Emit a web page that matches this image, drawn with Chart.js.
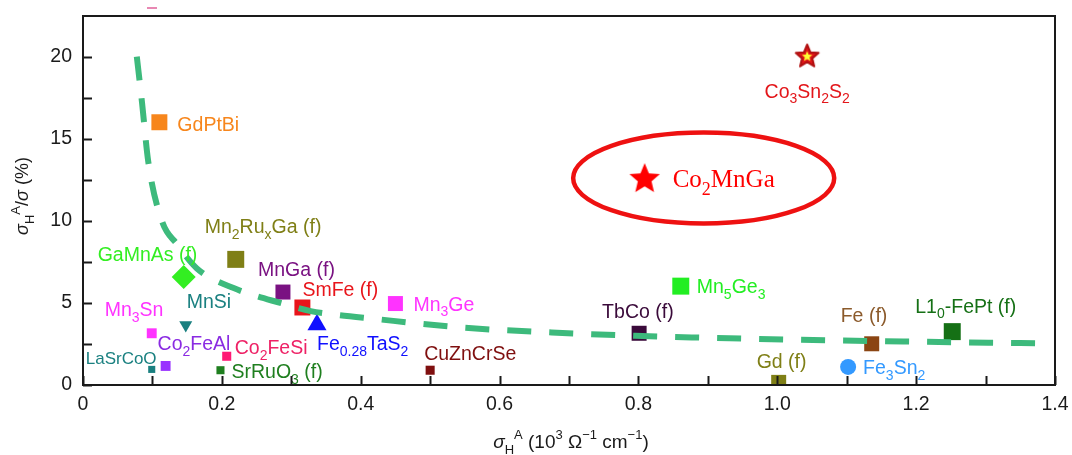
<!DOCTYPE html>
<html>
<head>
<meta charset="utf-8">
<script src="https://cdn.jsdelivr.net/npm/chart.js@4"></script>
<style>
  html, body { margin: 0; padding: 0; background: #fff; }
  #wrap { width: 1072px; height: 455px; }
</style>
</head>
<body>
<div id="wrap"><canvas id="myChart" width="1072" height="455"></canvas></div>
<script>
// materials, _ = subscript, ^ = superscript
const materials = ['GdPtBi', 'Mn_2Ru_xGa (f)', 'GaMnAs (f)', 'MnGa (f)', 'SmFe (f)', 'Mn_3Ge', 'MnSi', 'Mn_3Sn',
  'Co_2FeAl', 'Co_2FeSi', 'LaSrCoO', 'SrRuO_3 (f)', 'Fe_{0.28}TaS_2', 'CuZnCrSe', 'TbCo (f)', 'Mn_5Ge_3',
  'Fe (f)', 'L1_0-FePt (f)', 'Gd (f)', 'Fe_3Sn_2', 'Co_3Sn_2S_2', 'Co_2MnGa'];
const sigmaAH = [0.11, 0.22, 0.145, 0.288, 0.316, 0.45, 0.148, 0.099,
  0.119, 0.207, 0.099, 0.198, 0.337, 0.50, 0.801, 0.861,
  1.136, 1.252, 1.002, 1.102, 1.043, 0.809];
const ratio = [16.0, 7.65, 6.57, 5.66, 4.72, 4.96, 3.66, 3.15,
  1.16, 1.75, 0.95, 0.9, 3.67, 0.9, 3.15, 6.02,
  2.51, 3.25, 0.16, 1.1, 20.06, 12.6];

// dashed guide curve
const curveX = [0.0775, 0.085, 0.094, 0.114, 0.135, 0.164, 0.217, 0.289, 0.328, 0.361, 0.415, 0.545, 0.675, 0.795, 0.877, 1.017, 1.152, 1.35, 1.395];
const curveY = [20.0, 17.2, 13.6, 9.95, 8.6, 7.1, 5.9, 4.94, 4.5, 4.3, 4.05, 3.5, 3.2, 3.0, 2.9, 2.77, 2.67, 2.55, 2.53];

const xTicks = ['0', '0.2', '0.4', '0.6', '0.8', '1.0', '1.2', '1.4'];
const yTicks = ['0', '5', '10', '15', '20'];

// styles
const colors = ['#f7861c', '#7f7f16', '#33ee22', '#7a1282', '#e8151b', '#ff33ff', '#1a8080', '#ff33ff',
  '#9933ff', '#ff1a75', '#1a8080', '#1f7f1f', '#1010ff', '#7f0f0f', '#3a0a3a', '#22ee22',
  '#8b4513', '#157015', '#7f7f16', '#3399ff', '#e3161a', '#ff0000'];
const labelColors = ['#f7861c', '#7f7f16', '#33ee22', '#7a1282', '#e8151b', '#ff33ff', '#1a8080', '#ff33ff',
  '#8a2be2', '#ee2266', '#1a8080', '#1f7f1f', '#1010ff', '#7f0f0f', '#3a0a3a', '#22ee22',
  '#8b5a2b', '#157015', '#7f7f16', '#3399ff', '#e3161a', '#ff0000'];
const shapes = ['rect', 'rect', 'rectRot', 'rect', 'rect', 'rect', 'triangle', 'rect',
  'rect', 'rect', 'rect', 'rect', 'triangle', 'rect', 'rect', 'rect',
  'rect', 'rect', 'rect', 'circle', 'star1', 'star2'];
const sizes = [11.3, 12, 12, 10.6, 11.3, 10.6, 7.5, 7,
  7, 6.4, 5, 5.7, 11, 6.4, 10.6, 12,
  10.6, 12, 10.6, 8, 12, 16];
const rotations = [0, 0, 0, 0, 0, 0, 180, 0, 0, 0, 0, 0, 0, 0, 0, 0, 0, 0, 0, 0, 0, 0];
// label offsets from the marker in px
const labelDx = [18, -31, -86, -25, 0, 18, 1, -47, -8, 8, -66, 11, 0, -6, -37, 16, -31, -37, -22, 15, 0, 28];
const labelDy = [2, -33, -23, -23, -19, 0, -24, -24, -23, -9, -12, 1, 18, -17, -22, 0, -29, -26, -21, 0, 35, 0];

const SANS = '"Liberation Sans", Arial, Helvetica, sans-serif';
const SERIF = '"Liberation Serif", "Times New Roman", serif';

function makeStar(R, fill, stroke, inner) {
  const c = document.createElement('canvas');
  c.width = c.height = Math.ceil(2 * R + 6);
  const g = c.getContext('2d');
  const m = c.width / 2;
  function path(rr) {
    g.beginPath();
    for (let k = 0; k < 10; k++) {
      const a = -Math.PI / 2 + k * Math.PI / 5;
      const d = k % 2 ? rr * 0.45 : rr;
      g.lineTo(m + d * Math.cos(a), m + 1 + d * Math.sin(a));
    }
    g.closePath();
  }
  path(R);
  g.fillStyle = fill;
  g.fill();
  if (stroke) { g.lineWidth = 2; g.strokeStyle = stroke; g.lineJoin = 'round'; g.stroke(); }
  if (inner) { path(R * 0.45); g.fillStyle = inner; g.fill(); }
  return c;
}
const star1 = makeStar(12, '#e3161a', '#b01010', '#ffff33');
const star2 = makeStar(16, '#ff0000');
const pointStyles = shapes.map(s => s === 'star1' ? star1 : s === 'star2' ? star2 : s);

function parseRich(str) {
  const segs = [];
  let italic = false, i = 0;
  while (i < str.length) {
    const c = str[i];
    if (c === '~') { italic = !italic; i++; continue; }
    if (c === '_' || c === '^') {
      let t;
      if (str[i + 1] === '{') { const j = str.indexOf('}', i); t = str.slice(i + 2, j); i = j + 1; }
      else { t = str[i + 1]; i += 2; }
      segs.push({ t: t, mode: c === '_' ? 'sub' : 'sup', italic: italic });
      continue;
    }
    let j = i;
    while (j < str.length && '~_^'.indexOf(str[j]) < 0) j++;
    segs.push({ t: str.slice(i, j), mode: 'norm', italic: italic });
    i = j;
  }
  return segs;
}

function drawRich(ctx, str, x, cy, size, color, family, align) {
  const segs = parseRich(str);
  const fontOf = s => (s.italic ? 'italic ' : '') + (s.mode === 'norm' ? size : Math.round(size * 0.7)) + 'px ' + family;
  let w = 0;
  segs.forEach(s => { ctx.font = fontOf(s); s.w = ctx.measureText(s.t).width; w += s.w; });
  let px = align === 'center' ? x - w / 2 : x;
  const base = cy + size * 0.36;
  ctx.fillStyle = color;
  ctx.textAlign = 'left';
  ctx.textBaseline = 'alphabetic';
  segs.forEach(s => {
    ctx.font = fontOf(s);
    const dy = s.mode === 'sub' ? size * 0.3 : s.mode === 'sup' ? -size * 0.45 : 0;
    ctx.fillText(s.t, px, base + dy);
    px += s.w;
  });
}

// ellipse round Co2MnGa (data units)
const ring = { x: 0.894, y: 12.6, rx: 0.188, ry: 2.77 };

const decor = {
  id: 'decor',
  afterDatasetsDraw(chart) {
    const ctx = chart.ctx;
    const xs = chart.scales.x, ys = chart.scales.y;
    ctx.save();
    // ellipse
    const cx = xs.getPixelForValue(ring.x), cy = ys.getPixelForValue(ring.y);
    ctx.beginPath();
    ctx.ellipse(cx, cy, xs.getPixelForValue(ring.x + ring.rx) - cx, cy - ys.getPixelForValue(ring.y + ring.ry), 0, 0, Math.PI * 2);
    ctx.lineWidth = 4.5;
    ctx.strokeStyle = '#ee1111';
    ctx.stroke();
    // labels
    materials.forEach((m, i) => {
      const px = xs.getPixelForValue(sigmaAH[i]) + labelDx[i];
      const py = ys.getPixelForValue(ratio[i]) + labelDy[i];
      if (m === 'Co_2MnGa') drawRich(ctx, m, px, py, 25, labelColors[i], SERIF, 'left');
      else if (m === 'Co_3Sn_2S_2') drawRich(ctx, m, px, py, 19.5, labelColors[i], SANS, 'center');
      else drawRich(ctx, m, px, py, m === 'LaSrCoO' ? 17 : 19.5, labelColors[i], SANS, 'left');
    });
    ctx.restore();
  },
  afterDraw(chart) {
    const ctx = chart.ctx;
    const { left, right, top, bottom } = chart.chartArea;
    const xs = chart.scales.x, ys = chart.scales.y;
    ctx.save();
    ctx.strokeStyle = '#1a1a1a';
    ctx.lineWidth = 2;
    ctx.strokeRect(left, top, right - left, bottom - top);
    ctx.beginPath();
    xs.ticks.forEach(t => {
      const p = Math.round(xs.getPixelForValue(t.value)) + 0.5;
      ctx.moveTo(p, bottom); ctx.lineTo(p, bottom - 9);
    });
    ys.ticks.forEach(t => {
      const p = Math.round(ys.getPixelForValue(t.value)) + 0.5;
      ctx.moveTo(left, p); ctx.lineTo(left + 9, p);
    });
    ctx.stroke();
    // little pink mark above the frame
    ctx.strokeStyle = '#e0609a';
    ctx.lineWidth = 1.5;
    ctx.beginPath(); ctx.moveTo(147, 8); ctx.lineTo(157, 8); ctx.stroke();
    // axis titles
    drawRich(ctx, '~σ~_H^A (10^3 Ω^{−1} cm^{−1})', 571, 441, 19, '#1a1a1a', SANS, 'center');
    ctx.translate(22, 196);
    ctx.rotate(-Math.PI / 2);
    drawRich(ctx, '~σ~_H^A/~σ~ (%)', 0, 0, 18, '#1a1a1a', SANS, 'center');
    ctx.restore();
  }
};

new Chart('myChart', {
  type: 'scatter',
  data: {
    datasets: [{
      label: 'curve',
      data: curveX.map((x, i) => ({ x: x, y: curveY[i] })),
      showLine: true,
      borderColor: '#3dba7c',
      borderWidth: 6,
      borderDash: [24, 18],
      cubicInterpolationMode: 'monotone',
      pointRadius: 0,
      order: 0
    }, {
      label: 'materials',
      data: materials.map((m, i) => ({ x: sigmaAH[i], y: ratio[i] })),
      pointStyle: pointStyles,
      pointRadius: sizes,
      pointRotation: rotations,
      backgroundColor: colors,
      borderColor: colors,
      borderWidth: 0,
      order: 1
    }]
  },
  options: {
    responsive: false,
    devicePixelRatio: 1,
    animation: false,
    layout: { padding: { left: 40, right: 17, top: 12, bottom: 40 } },
    plugins: { legend: { display: false }, tooltip: { enabled: false } },
    scales: {
      x: {
        type: 'linear', min: 0, max: 1.4,
        // tick marks are drawn by the plugin; tickLength only spaces the labels
        grid: { display: false, drawTicks: true, tickLength: 8 },
        border: { display: false },
        ticks: {
          stepSize: 0.1, autoSkip: false, maxRotation: 0, padding: 0,
          color: '#1a1a1a', font: { family: SANS, size: 19.5 },
          callback: v => {
            const k = Math.round(v * 10);
            return k % 2 === 0 ? xTicks[k / 2] : '';
          }
        },
        afterFit: s => { s.height = 30; }
      },
      y: {
        type: 'linear', min: 0, max: 22.47,
        grid: { display: false, drawTicks: true, tickLength: 11 },
        border: { display: false },
        ticks: {
          stepSize: 2.5, includeBounds: false, autoSkip: false, padding: 0,
          color: '#1a1a1a', font: { family: SANS, size: 19.5 },
          callback: v => (v % 5 === 0 ? yTicks[v / 5] : '')
        },
        afterFit: s => { s.width = 43; }
      }
    }
  },
  plugins: [decor]
});
</script>
</body>
</html>
